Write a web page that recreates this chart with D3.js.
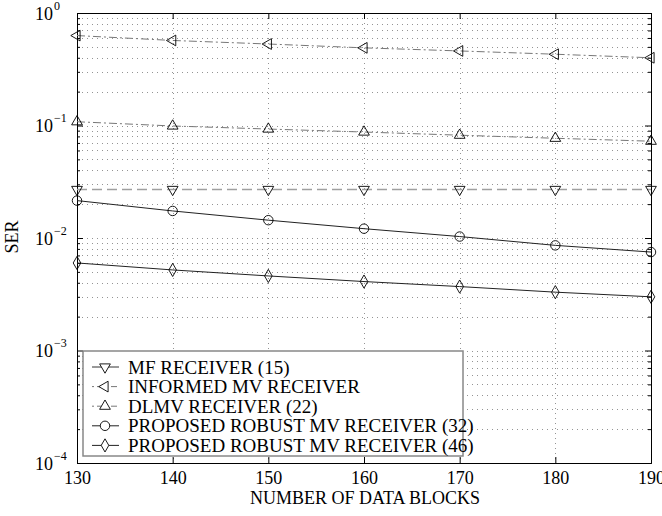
<!DOCTYPE html>
<html>
<head>
<meta charset="utf-8">
<script src="https://cdn.jsdelivr.net/npm/d3@7"></script>
<style>
  body { margin: 0; background: #fff; }
  svg text { font-family: "Liberation Serif", "Times New Roman", serif; fill: #000; }
</style>
</head>
<body>
<svg width="662" height="516"></svg>
<script>
// data
const blocks = [130, 140, 150, 160, 170, 180, 190];
const mfReceiver = [0.027, 0.027, 0.027, 0.027, 0.027, 0.027, 0.027];
const informedMv = [0.63, 0.57, 0.53, 0.49, 0.46, 0.43, 0.40];
const dlmv = [0.108, 0.099, 0.093, 0.0875, 0.082, 0.077, 0.0725];
const robust32 = [0.0215, 0.0174, 0.0144, 0.0121, 0.0103, 0.0086, 0.0075];
const robust46 = [0.0060, 0.0052, 0.0046, 0.0041, 0.0037, 0.0033, 0.0030];
const xTicks = [130, 140, 150, 160, 170, 180, 190];
const yDecades = [1e-4, 1e-3, 1e-2, 1e-1, 1];
const yExponents = ["\u22124", "\u22123", "\u22122", "\u22121", "0"];

const series = [
  { name: "MF RECEIVER (15)", values: mfReceiver, marker: "down", color: "#a0a0a0", width: 1.4, dash: "10,5", legendDash: null },
  { name: "INFORMED MV RECEIVER", values: informedMv, marker: "left", color: "#777", width: 1, dash: "8,3,2,3", legendDash: "2,3,6,3" },
  { name: "DLMV RECEIVER (22)", values: dlmv, marker: "up", color: "#777", width: 1, dash: "8,3,2,3", legendDash: "2,3,6,3" },
  { name: "PROPOSED ROBUST MV RECEIVER (32)", values: robust32, marker: "circle", color: "#222", width: 1, dash: null, legendDash: null },
  { name: "PROPOSED ROBUST MV RECEIVER (46)", values: robust46, marker: "diamond", color: "#222", width: 1, dash: null, legendDash: null }
];

const svg = d3.select("svg");
const mLeft = 77, mRight = 651, mTop = 13, mBottom = 463;
const fontSize = "18px";

const x = d3.scaleLinear().domain([130, 190]).range([mLeft, mRight]);
const y = d3.scaleLog().domain([1e-4, 1]).range([mBottom, mTop]);

// minor values for grid
const minorY = [];
for (let e = -4; e < 0; e++) {
  for (let m = 2; m <= 9; m++) minorY.push(m * Math.pow(10, e));
}

// grid
const grid = svg.append("g").attr("stroke", "#666").attr("stroke-width", 0.7).attr("stroke-dasharray", "1,4");
grid.selectAll(".gy").data(yDecades.concat(minorY)).enter().append("line")
  .attr("x1", mLeft).attr("x2", mRight)
  .attr("y1", d => Math.round(y(d)) + 0.5).attr("y2", d => Math.round(y(d)) + 0.5);
grid.selectAll(".gx").data(xTicks).enter().append("line")
  .attr("y1", mTop).attr("y2", mBottom)
  .attr("x1", d => Math.round(x(d)) + 0.5).attr("x2", d => Math.round(x(d)) + 0.5);

// axes with inward ticks
const xAxisB = d3.axisBottom(x).tickValues(xTicks).tickSize(-6).tickPadding(8).tickFormat(d3.format("d"));
const xAxisT = d3.axisTop(x).tickValues(xTicks).tickSize(-6).tickFormat("");
const yAxisL = d3.axisLeft(y).tickValues(yDecades).tickSize(-6).tickFormat("");
const yAxisR = d3.axisRight(y).tickValues(yDecades).tickSize(-6).tickFormat("");
const yMinorL = d3.axisLeft(y).tickValues(minorY).tickSize(-3).tickFormat("");
const yMinorR = d3.axisRight(y).tickValues(minorY).tickSize(-3).tickFormat("");

function styleAxis(g) {
  g.selectAll("path").attr("stroke", "#000");
  g.selectAll("line").attr("stroke", "#000");
  g.selectAll("text").style("font-size", fontSize).attr("fill", "#000");
}

svg.append("g").attr("transform", `translate(0,${mBottom})`).call(xAxisB).call(styleAxis);
svg.append("g").attr("transform", `translate(0,${mTop})`).call(xAxisT).call(styleAxis);
svg.append("g").attr("transform", `translate(${mLeft},0)`).call(yMinorL).call(styleAxis).select(".domain").remove();
svg.append("g").attr("transform", `translate(${mRight},0)`).call(yMinorR).call(styleAxis).select(".domain").remove();
const yl = svg.append("g").attr("transform", `translate(${mLeft},0)`).call(yAxisL).call(styleAxis);
svg.append("g").attr("transform", `translate(${mRight},0)`).call(yAxisR).call(styleAxis);

// power-of-ten labels
yl.selectAll(".tick").each(function(d, i) {
  const t = d3.select(this).append("text")
    .attr("x", -42).attr("y", 6)
    .attr("text-anchor", "start")
    .style("font-size", fontSize);
  t.append("tspan").text("10");
  t.append("tspan").attr("dx", 1).attr("dy", -10).style("font-size", "12px").text(yExponents[i]);
});

// series
const symbols = {
  down: d3.symbol().type(d3.symbolTriangle).size(50),
  left: d3.symbol().type(d3.symbolTriangle).size(50),
  up: d3.symbol().type(d3.symbolTriangle).size(50),
  circle: d3.symbol().type(d3.symbolCircle).size(70),
  diamond: d3.symbol().type(d3.symbolDiamond).size(50)
};
const rot = { down: 180, left: -90, up: 0, circle: 0, diamond: 0 };

const line = d3.line().x(d => x(d[0])).y(d => y(d[1]));

series.forEach(s => {
  const pts = blocks.map((b, i) => [b, s.values[i]]);
  svg.append("path").datum(pts)
    .attr("d", line)
    .attr("fill", "none")
    .attr("stroke", s.color)
    .attr("stroke-width", s.width)
    .attr("stroke-dasharray", s.dash);
  svg.selectAll(null).data(pts).enter().append("path")
    .attr("d", symbols[s.marker])
    .attr("transform", d => `translate(${x(d[0])},${y(d[1])}) rotate(${rot[s.marker]})`)
    .attr("fill", "none")
    .attr("stroke", "#000")
    .attr("stroke-width", 0.9);
});

// legend
const lg = svg.append("g");
lg.append("rect")
  .attr("x", 83).attr("y", 351).attr("width", 380).attr("height", 105)
  .attr("fill", "#fff").attr("stroke", "#888").attr("stroke-width", 1.5);
series.forEach((s, i) => {
  const cy = 367 + i * 19.6;
  lg.append("line")
    .attr("x1", 92).attr("x2", 119).attr("y1", cy).attr("y2", cy)
    .attr("stroke", s.marker === "down" ? "#333" : s.color)
    .attr("stroke-width", 1)
    .attr("stroke-dasharray", s.legendDash);
  lg.append("path")
    .attr("d", symbols[s.marker])
    .attr("transform", `translate(105,${cy}) rotate(${rot[s.marker]})`)
    .attr("fill", "#fff")
    .attr("stroke", "#000")
    .attr("stroke-width", 0.9);
  lg.append("text")
    .attr("x", 128).attr("y", cy + 6.5)
    .style("font-size", "19px")
    .text(s.name);
});

// axis titles
svg.append("text")
  .attr("x", 365).attr("y", 504)
  .attr("text-anchor", "middle")
  .style("font-size", fontSize)
  .text("NUMBER OF DATA BLOCKS");
svg.append("text")
  .attr("transform", "translate(18,237) rotate(-90)")
  .attr("text-anchor", "middle")
  .style("font-size", fontSize)
  .text("SER");
</script>
</body>
</html>
